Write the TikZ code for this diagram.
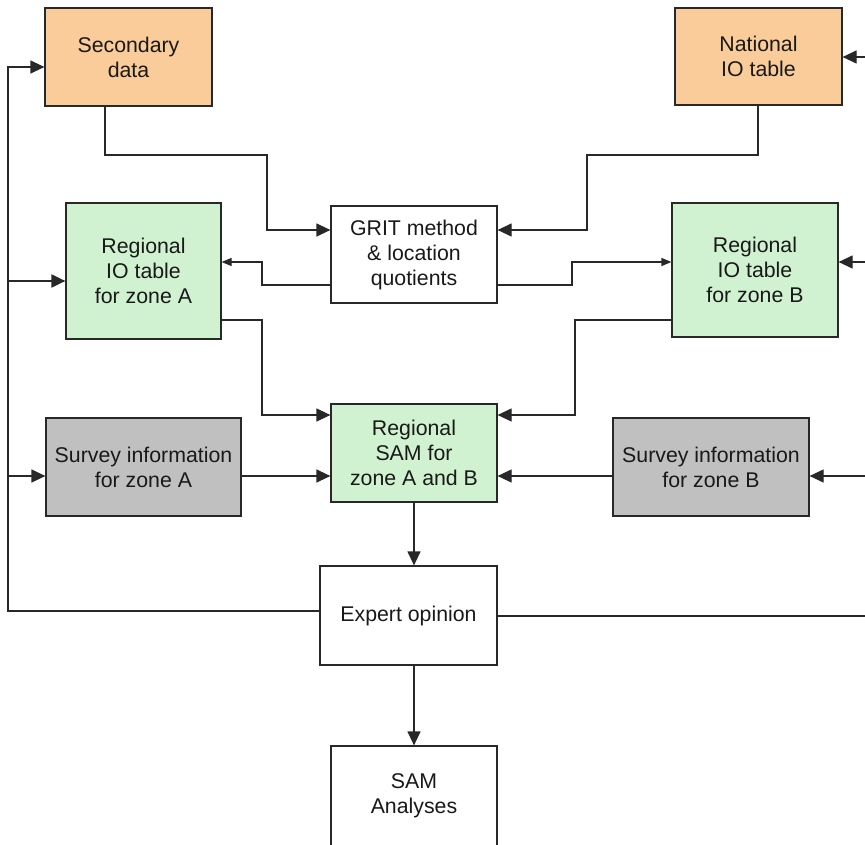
\documentclass[tikz,border=0pt]{standalone}
\usepackage{fontspec}
\setmainfont{Liberation Sans}
\usetikzlibrary{arrows.meta}
\definecolor{orangefill}{RGB}{250,204,154}
\definecolor{greenfill}{RGB}{208,242,208}
\definecolor{grayfill}{RGB}{192,192,192}
\definecolor{edge}{RGB}{40,40,40}
\begin{document}
\begin{tikzpicture}[x=1pt,y=-1pt,
  box/.style={draw=edge,line width=1.2pt,align=center,inner sep=0pt,
    font=\fontsize{21.3}{25}\selectfont,text=black!90},
  conn/.style={draw=edge,line width=1.2pt},
  arr/.style={conn,-{Triangle[length=14pt,width=13pt]}},
  sarr/.style={conn,-{Triangle[length=10pt,width=8pt]}}]
\clip (0,0) rectangle (865,845);
\fill[white] (0,0) rectangle (865,845);
% nodes
\node[box,fill=orangefill,minimum width=167pt,minimum height=98pt] (sec) at (128.5,57) {Secondary\\data};
\node[box,fill=orangefill,minimum width=167pt,minimum height=97pt] (nat) at (758.5,56.5) {National\\IO table};
\node[box,fill=white,minimum width=166pt,minimum height=97pt] (grit) at (414,254.5) {GRIT method\\\& location\\quotients};
\node[box,fill=greenfill,minimum width=155pt,minimum height=136pt] (rega) at (143.5,271) {Regional\\IO table\\for zone A};
\node[box,fill=greenfill,minimum width=166pt,minimum height=134pt] (regb) at (755,270) {Regional\\IO table\\for zone B};
\node[box,fill=greenfill,minimum width=166pt,minimum height=98pt] (sam) at (414,453) {Regional\\SAM for\\zone A and B};
\node[box,fill=grayfill,minimum width=195pt,minimum height=98pt] (surva) at (143.5,467) {Survey information\\for zone A};
\node[box,fill=grayfill,minimum width=196pt,minimum height=98pt] (survb) at (711,467) {Survey information\\for zone B};
\node[box,fill=white,minimum width=177pt,minimum height=99pt] (exp) at (408.5,615.5) {Expert opinion};
\node[box,fill=white,minimum width=166pt,minimum height=100pt] (ana) at (414,796) {SAM\\Analyses};
% feedback coordinates
\coordinate (L) at (8,0);
\coordinate (R) at (880,0);
% left feedback
\draw[arr] (exp.west|-0,611) -- (L|-0,611) -- (L|-0,67) -- (sec.west|-0,67);
\draw[arr,line width=2pt] (L|-0,281) -- (rega.west|-0,281);
\draw[arr] (L|-0,476) -- (surva.west|-0,476);
% right feedback
\draw[conn] (exp.east|-0,616) -- (R|-0,616) -- (R|-0,57);
\draw[arr] (R|-0,57) -- (nat.east|-0,57);
\draw[arr] (R|-0,262) -- (regb.east|-0,262);
\draw[arr] (R|-0,476) -- (survb.east|-0,476);
% into GRIT
\draw[arr] (sec.south-|105,0) -- (105,155) -- (267,155) -- (267,230) -- (grit.west|-0,230);
\draw[arr] (nat.south-|758,0) -- (758,155) -- (587,155) -- (587,230) -- (grit.east|-0,230);
% GRIT to regional tables
\draw[sarr] (grit.west|-0,285) -- (262,285) -- (262,262) -- (rega.east|-0,262);
\draw[sarr] (grit.east|-0,285) -- (572,285) -- (572,262) -- (regb.west|-0,262);
% regional tables to SAM
\draw[arr] (rega.east|-0,320) -- (262,320) -- (262,415) -- (sam.west|-0,415);
\draw[arr] (regb.west|-0,320) -- (575,320) -- (575,415) -- (sam.east|-0,415);
% surveys to SAM
\draw[arr] (surva.east|-0,476) -- (sam.west|-0,476);
\draw[arr] (survb.west|-0,476) -- (sam.east|-0,476);
% SAM to expert, expert to analyses
\draw[arr] (sam.south) -- (sam.south|-exp.north);
\draw[arr] (ana.north|-exp.south) -- (ana.north);
\end{tikzpicture}
\end{document}
